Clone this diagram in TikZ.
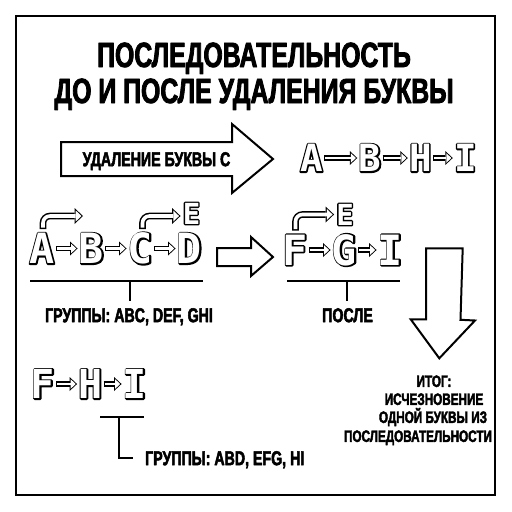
\documentclass[tikz,border=0pt]{standalone}
\usepackage{fontspec}
\setmainfont{Liberation Sans}
\newfontfamily\condfont[FakeStretch=0.71]{Liberation Sans}
\newfontfamily\letfont{DejaVu Sans Mono}
\usetikzlibrary{arrows.meta,calc}
\newcommand\olet[1]{\special{pdf:literal direct 2.8 w 1 j 2 Tr}\rlap{#1}\special{pdf:literal direct 0 Tr}\textcolor{white}{#1}}
\newcommand\heavy[2]{\special{pdf:literal direct #1 w 1 j 2 Tr}#2\special{pdf:literal direct 0 Tr}}
\begin{document}
\begin{tikzpicture}[x=1pt,y=-1pt,
  ttl/.style={font=\condfont\bfseries\fontsize{35}{35}\selectfont, inner sep=0pt, text height=25pt, text depth=0pt},
  lab/.style={font=\condfont\bfseries\fontsize{20}{20}\selectfont, inner sep=0pt, text height=14.3pt, text depth=0pt},
  smalllab/.style={font=\condfont\bfseries\fontsize{16.5}{16.5}\selectfont, inner sep=0pt, text height=11.8pt, text depth=0pt},
  letbase/.style={text=black, inner sep=0pt, text depth=0pt},
  letA/.style={letbase, font=\letfont\bfseries\fontsize{41.7}{41.7}\selectfont, text height=30.4pt},
  letB/.style={letbase, font=\letfont\bfseries\fontsize{37.6}{37.6}\selectfont, text height=27.4pt},
  letC/.style={letbase, font=\letfont\bfseries\fontsize{40}{40}\selectfont, text height=29.2pt},
  letE/.style={letbase, font=\letfont\bfseries\fontsize{29}{29}\selectfont, text height=21.1pt},
  bigarrow/.style={draw=black, line width=2pt, line join=miter, fill=white},
  thinline/.style={draw=black, line width=1.5pt},
  hollow/.style={draw=white, line width=2.2pt,
    -{Triangle[length=5pt,width=9.5pt,line width=0pt]}, shorten >=2.6pt, shorten <=2.2pt,
    preaction={draw=black, line width=5.4pt,
      -{Triangle[length=7.5pt,width=14pt,line width=0pt]}, shorten >=1.2pt, shorten <=1pt}},
  curvy/.style={draw=white, line width=3.6pt, rounded corners=7pt,
    -{Triangle[length=5.8pt,width=11pt,line width=0pt]}, shorten >=1.5pt, shorten <=1.4pt,
    preaction={draw=black, line width=6.6pt, rounded corners=7pt,
      -{Triangle[length=8.5pt,width=16pt,line width=0pt]}, shorten >=0pt, shorten <=0pt}}
]
\useasboundingbox (0,0) rectangle (512,512);
\fill[white] (0,0) rectangle (512,512);
\draw[line width=2pt] (16,16) rectangle (495,495);

% title
\node[ttl] (t1) at (254,54.5) {\heavy{0.8}{ПОСЛЕДОВАТЕЛЬНОСТЬ}};
\node[ttl] (t2) at (254,90.5) {\heavy{0.8}{ДО И ПОСЛЕ УДАЛЕНИЯ БУКВЫ}};

% big right arrow with label
\draw[bigarrow] (61,142) -- (232,142) -- (232,124) -- (273,159) -- (232,193) -- (232,176) -- (61,176) -- cycle;
\node[lab] (del) at (156.5,159) {\heavy{0.5}{УДАЛЕНИЕ БУКВЫ С}};

% row 1: A B H I
\node[letB] (a1) at (311.5,158) {\olet{A}};
\node[letB] (b1) at (370,158) {\olet{B}};
\node[letB] (h1) at (420.5,158) {\olet{H}};
\node[letB] (i1) at (465.5,158) {\olet{I}};
\draw[hollow] (a1) -- (b1);
\draw[hollow] (b1) -- (h1);
\draw[hollow] (h1) -- (i1);

% row 2: A B C D + E
\node[letA] (a2) at (42,248.5) {\olet{A}};
\node[letA] (b2) at (91.5,248.5) {\olet{B}};
\node[letA] (c2) at (140.5,248.5) {\olet{C}};
\node[letA] (d2) at (189.5,248.5) {\olet{D}};
\node[letE] (e2) at (191.5,213.5) {\olet{E}};
\draw[hollow] (a2) -- (b2);
\draw[hollow] (b2) -- (c2);
\draw[hollow] (c2) -- (d2);
\coordinate (k1) at (83,216);
\draw[curvy] ($(a2.north)+(1,-4)$) |- (k1);
\draw[curvy] ($(c2.north)+(2,-4)$) |- ($(e2.west)+(-2,2.5)$);

\coordinate (g1l) at (30,281);
\coordinate (g1r) at (203,281);
\coordinate (g1m) at (130,281);
\draw[thinline] (g1l) -- (g1r);
\node[lab] (g1) at (129,315) {\heavy{0.5}{ГРУППЫ: ABC, DEF, GHI}};
\draw[thinline, shorten >=6.5pt] (g1m) -- (g1m |- g1.north);

% middle hollow arrow
\draw[bigarrow] (217,248) -- (251,248) -- (251,237) -- (273,257) -- (251,276) -- (251,266) -- (217,266) -- cycle;

% row 3: F G I + E
\node[letA] (f3) at (295,250) {\olet{F}};
\node[letA] (g3) at (344.5,250) {\olet{G}};
\node[letA] (i3) at (390.5,250) {\olet{I}};
\node[letE] (e3) at (345,214.5) {\olet{E}};
\draw[hollow] (f3) -- (g3);
\draw[hollow] (g3) -- (i3);
\draw[curvy] ($(f3.north)+(0.5,-4)$) |- ($(e3.west)+(-2,0)$);

\coordinate (g2l) at (287,281);
\coordinate (g2r) at (400,281);
\coordinate (g2m) at (347,281);
\draw[thinline] (g2l) -- (g2r);
\node[lab] (g2) at (347.5,315) {\heavy{0.5}{ПОСЛЕ}};
\draw[thinline, shorten >=6.5pt] (g2m) -- (g2m |- g2.north);

% down arrow
\draw[bigarrow] (426,248.3) -- (462.7,248.3) -- (460.5,319.8) -- (475,320.5) -- (439.3,358.3) -- (410.7,319.3) -- (426,319.3) -- cycle;

\node[smalllab] (r1) at (434,381) {\heavy{0.4}{ИТОГ:}};
\node[smalllab] (r2) at (434,399) {\heavy{0.4}{ИСЧЕЗНОВЕНИЕ}};
\node[smalllab] (r3) at (433,417) {\heavy{0.4}{ОДНОЙ БУКВЫ ИЗ}};
\node[smalllab] (r4) at (418,436) {\heavy{0.4}{ПОСЛЕДОВАТЕЛЬНОСТИ}};

% row 4: F H I
\node[letC] (f4) at (43,384) {\olet{F}};
\node[letC] (h4) at (90.5,384) {\olet{H}};
\node[letC] (i4) at (135,384) {\olet{I}};
\draw[hollow] (f4) -- (h4);
\draw[hollow] (h4) -- (i4);

\coordinate (g3l) at (100,417);
\coordinate (g3r) at (144,417);
\coordinate (g3m) at (119,417);
\draw[thinline] (g3l) -- (g3r);
\node[lab, anchor=west] (g4) at (145,458) {\heavy{0.5}{ГРУППЫ: ABD, EFG, HI}};
\draw[thinline, shorten >=12pt] (g3m) |- (g4.west);
\end{tikzpicture}
\end{document}
